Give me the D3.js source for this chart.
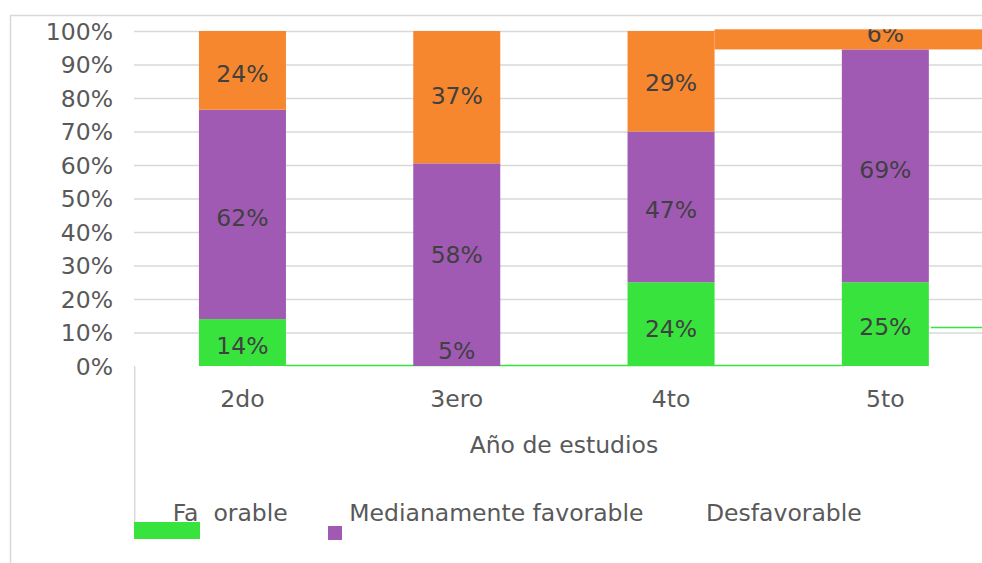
<!DOCTYPE html>
<html>
<head>
<meta charset="utf-8">
<script src="https://cdn.jsdelivr.net/npm/d3@7"></script>
<style>
  body { margin: 0; background: #fff; }
  text { font-family: "DejaVu Sans", Verdana, sans-serif; }
</style>
</head>
<body>
<svg id="chart" width="982" height="563"></svg>
<script>
(function () {
  'use strict';

  var years = ["2do", "3ero", "4to", "5to"];

  // percentages as labelled
  var favorable = [14, 5, 24, 25];
  var medium = [62, 58, 47, 69];
  var unfavorable = [24, 37, 29, 6];

  // segment heights as they appear drawn (3ero has no green segment)
  var favorableBar = [14, 0, 25, 25];
  var mediumBar = [62.5, 60.5, 45, 69.5];
  var unfavorableBar = [23.5, 39.5, 30, 6];

  var yTicks = [0, 10, 20, 30, 40, 50, 60, 70, 80, 90, 100];
  var legendNames = ["Fa\u00a0\u00a0orable", "Medianamente favorable", "Desfavorable"];
  var colors = ["#38e33e", "#a05ab4", "#f7872e"];

  var W = 982, H = 563;
  var svg = d3.select("#chart");

  var x = d3.scaleBand()
    .domain(years)
    .range([135.3, 992.5])
    .paddingInner(0.594)
    .paddingOuter(0.297);

  var y = d3.scaleLinear()
    .domain([0, 100])
    .range([366, 31]);

  var bw = x.bandwidth();

  // outer frame
  svg.append("line")
    .attr("x1", 10).attr("x2", W).attr("y1", 15.5).attr("y2", 15.5)
    .attr("stroke", "#d9d9d9").attr("stroke-width", 1.5);
  svg.append("line")
    .attr("x1", 10.5).attr("x2", 10.5).attr("y1", 15).attr("y2", H)
    .attr("stroke", "#d9d9d9").attr("stroke-width", 1.5);

  // y axis with gridlines
  var yAxis = d3.axisLeft(y)
    .tickValues(yTicks)
    .tickSize(-(W - 134))
    .tickPadding(21)
    .tickFormat(function (d) { return d + "%"; });

  var ga = svg.append("g")
    .attr("transform", "translate(134,0)")
    .call(yAxis);
  ga.select(".domain").remove();
  ga.selectAll(".tick line")
    .attr("stroke", "#d9d9d9")
    .attr("stroke-width", 1.4)
    .attr("display", function (d) { return d === 0 ? "none" : null; });
  ga.selectAll(".tick text")
    .attr("fill", "#595959")
    .attr("font-size", "23.5px")
    .attr("dy", "0.36em")
    .style("font-family", "'DejaVu Sans', Verdana, sans-serif");

  // axis stub below the plot
  svg.append("line")
    .attr("x1", 134.7).attr("x2", 134.7)
    .attr("y1", y(0)).attr("y2", 522)
    .attr("stroke", "#d9d9d9").attr("stroke-width", 1.5);

  // stray green baseline
  svg.append("line")
    .attr("x1", x(years[0]) + bw).attr("x2", x(years[3]))
    .attr("y1", y(0) - 0.5).attr("y2", y(0) - 0.5)
    .attr("stroke", colors[0]).attr("stroke-width", 1.6);
  svg.append("line")
    .attr("x1", x(years[3]) + bw + 2).attr("x2", W)
    .attr("y1", y(11.5)).attr("y2", y(11.5))
    .attr("stroke", colors[0]).attr("stroke-width", 1.6);

  // stacked bars
  var rows = years.map(function (yr, i) {
    return { year: yr, a: favorableBar[i], b: mediumBar[i], c: unfavorableBar[i] };
  });
  var stack = d3.stack().keys(["a", "b", "c"])(rows);

  stack.forEach(function (layer, k) {
    svg.append("g").selectAll("rect")
      .data(layer)
      .enter().append("rect")
      .attr("x", function (d) {
        // last orange piece is smeared to the right edge
        if (k === 2 && d.data.year === "5to") return x("4to") + bw;
        return x(d.data.year);
      })
      .attr("width", function (d) {
        if (k === 2 && d.data.year === "5to") return W - (x("4to") + bw);
        return bw;
      })
      .attr("y", function (d) { return y(d[1]); })
      .attr("height", function (d) { return Math.max(0, y(d[0]) - y(d[1])); })
      .attr("fill", colors[k]);
  });

  // data labels, placed from the labelled values
  svg.append("clipPath").attr("id", "labclip")
    .append("rect")
    .attr("x", 0).attr("y", y(100.5)).attr("width", W).attr("height", H);

  var labels = [];
  years.forEach(function (yr, i) {
    var vals = [favorable[i], medium[i], unfavorable[i]];
    var base = 0;
    vals.forEach(function (v) {
      labels.push({ year: yr, v: v, mid: base + v / 2 });
      base += v;
    });
  });

  svg.append("g")
    .attr("clip-path", "url(#labclip)")
    .selectAll("text")
    .data(labels)
    .enter().append("text")
    .attr("x", function (d) { return x(d.year) + bw / 2; })
    .attr("y", function (d) { return y(d.mid) + (d.v < 10 ? 1 : 11); })
    .attr("text-anchor", "middle")
    .attr("font-size", "23.5px")
    .attr("fill", "#404040")
    .text(function (d) { return d.v + "%"; });

  // category labels
  svg.append("g").selectAll("text")
    .data(years)
    .enter().append("text")
    .attr("x", function (d) { return x(d) + bw / 2; })
    .attr("y", 406.5)
    .attr("text-anchor", "middle")
    .attr("font-size", "23.5px")
    .attr("fill", "#595959")
    .text(function (d) { return d; });

  svg.append("text")
    .attr("x", (x.range()[0] + x.range()[1]) / 2)
    .attr("y", 452.5)
    .attr("text-anchor", "middle")
    .attr("font-size", "23.5px")
    .attr("fill", "#595959")
    .text("Año de estudios");

  // legend (as it appears, markers misplaced)
  svg.append("rect")
    .attr("x", 134).attr("y", 522).attr("width", 66).attr("height", 17)
    .attr("fill", colors[0]);
  svg.append("rect")
    .attr("x", 328).attr("y", 526).attr("width", 14).attr("height", 14)
    .attr("fill", colors[1]);

  var legendX = [172.7, 349.3, 706];
  svg.append("g").selectAll("text")
    .data(legendNames)
    .enter().append("text")
    .attr("x", function (d, i) { return legendX[i]; })
    .attr("y", 521)
    .attr("font-size", "23.5px")
    .attr("fill", "#595959")
    .text(function (d) { return d; });
})();
</script>
</body>
</html>
